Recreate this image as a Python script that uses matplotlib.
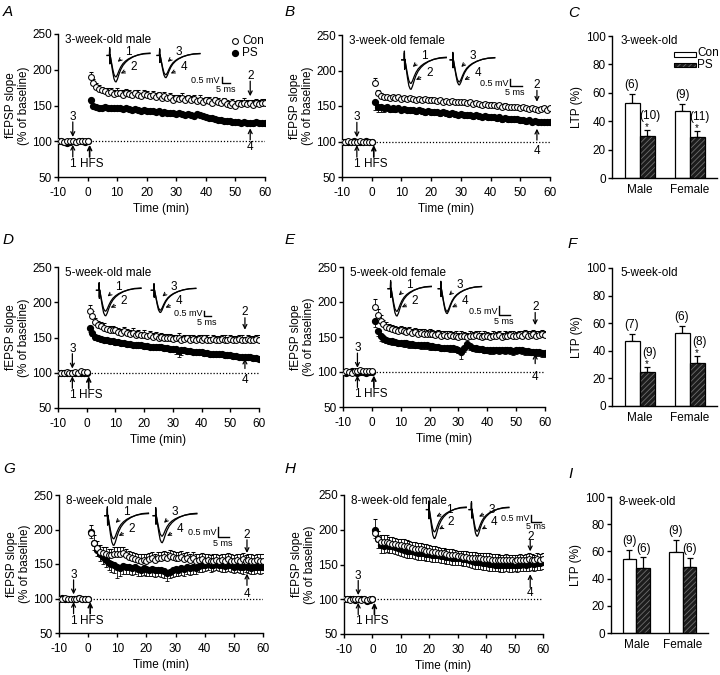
import matplotlib
matplotlib.use('Agg')
import matplotlib.pyplot as plt
from matplotlib.patches import Rectangle

plt.rcParams['font.family'] = ['Liberation Sans', 'DejaVu Sans']
plt.rcParams['font.size'] = 8.5
plt.rcParams['hatch.linewidth'] = 0.6
plt.rcParams['axes.unicode_minus'] = False

# ---------------- data ----------------
base_time = [-10, -9, -8, -7, -6, -5, -4, -3, -2, -1, 0]
post_time = [1, 2, 3, 4, 5, 6, 7, 8, 9, 10,
             11, 12, 13, 14, 15, 16, 17, 18, 19, 20,
             21, 22, 23, 24, 25, 26, 27, 28, 29, 30,
             31, 32, 33, 34, 35, 36, 37, 38, 39, 40,
             41, 42, 43, 44, 45, 46, 47, 48, 49, 50,
             51, 52, 53, 54, 55, 56, 57, 58, 59, 60]
x_ticks = [-10, 0, 10, 20, 30, 40, 50, 60]
y_ticks = [50, 100, 150, 200, 250]

# --- A: 3-week-old male ---
A_con_base = [101, 100, 99, 100, 101, 100, 99, 100, 101, 100, 100]
A_con_base_err = [2, 2, 2, 2, 2, 2, 2, 2, 2, 2, 2]
A_con = [190, 181, 176, 173, 171, 170, 168, 169, 166, 168,
         167, 165, 168, 166, 164, 167, 165, 163, 166, 164,
         163, 165, 162, 164, 161, 163, 160, 162, 158, 160,
         159, 161, 158, 160, 157, 159, 156, 158, 155, 157,
         156, 154, 157, 155, 153, 156, 152, 151, 154, 150,
         153, 152, 154, 152, 153, 151, 154, 152, 153, 154]
A_con_err = [7, 6, 5, 5, 5, 5, 6, 5, 5, 6,
             5, 6, 5, 6, 5, 5, 6, 5, 5, 6,
             5, 5, 6, 5, 5, 6, 5, 5, 6, 5,
             5, 6, 5, 5, 6, 5, 5, 6, 5, 5,
             6, 5, 5, 6, 5, 5, 6, 5, 5, 6,
             5, 5, 6, 5, 5, 6, 5, 5, 6, 5]
A_ps_base = [100, 101, 99, 98, 99, 100, 99, 101, 100, 99, 100]
A_ps_base_err = [2, 2, 2, 2, 2, 2, 2, 2, 2, 2, 2]
A_ps = [158, 150, 148, 147, 147, 148, 147, 146, 146, 147,
        146, 145, 146, 145, 144, 145, 144, 143, 144, 142,
        143, 142, 141, 142, 140, 141, 140, 139, 140, 138,
        139, 138, 137, 138, 137, 136, 138, 137, 135, 134,
        133, 132, 131, 130, 130, 129, 128, 128, 127, 127,
        127, 126, 127, 126, 126, 125, 127, 126, 125, 125]
A_ps_err = [5, 4, 3, 3, 3, 3, 3, 3, 3, 3,
            3, 3, 3, 3, 3, 3, 3, 3, 3, 3,
            3, 3, 3, 3, 3, 3, 3, 3, 3, 3,
            3, 3, 3, 3, 3, 3, 4, 3, 3, 3,
            3, 3, 3, 3, 3, 3, 3, 3, 3, 3,
            3, 3, 3, 3, 3, 3, 3, 3, 3, 3]

# --- B: 3-week-old female ---
B_con_base = [100, 100, 101, 100, 99, 100, 101, 100, 100, 99, 100]
B_con_base_err = [2, 2, 2, 2, 2, 2, 2, 2, 2, 2, 2]
B_con = [182, 168, 164, 162, 162, 161, 162, 161, 162, 160,
         161, 160, 161, 160, 159, 160, 159, 160, 158, 159,
         158, 157, 158, 156, 157, 156, 157, 155, 156, 155,
         156, 154, 155, 153, 154, 153, 152, 153, 151, 152,
         151, 150, 151, 149, 150, 149, 148, 149, 148, 147,
         148, 147, 146, 147, 146, 145, 146, 147, 145, 147]
B_con_err = [7, 5, 4, 4, 4, 3, 3, 4, 3, 3,
             3, 4, 3, 3, 3, 3, 4, 3, 3, 3,
             3, 3, 3, 4, 3, 3, 3, 3, 3, 3,
             3, 3, 4, 3, 3, 3, 3, 3, 3, 3,
             3, 3, 3, 3, 4, 3, 3, 3, 3, 3,
             3, 3, 3, 3, 3, 3, 3, 3, 3, 3]
B_ps_base = [100, 99, 100, 100, 101, 100, 99, 100, 101, 100, 100]
B_ps_base_err = [2, 2, 2, 2, 2, 2, 2, 2, 2, 2, 2]
B_ps = [155, 149, 148, 147, 148, 146, 147, 146, 147, 145,
        146, 145, 144, 145, 143, 144, 143, 142, 143, 142,
        141, 142, 140, 141, 140, 139, 140, 139, 138, 139,
        138, 137, 138, 136, 137, 136, 135, 136, 134, 135,
        134, 133, 134, 132, 133, 132, 131, 132, 131, 130,
        130, 129, 130, 128, 129, 128, 128, 127, 128, 127]
B_ps_err = [10, 8, 7, 6, 5, 5, 5, 4, 4, 4,
            4, 4, 4, 4, 4, 4, 4, 4, 4, 4,
            4, 4, 4, 4, 4, 4, 4, 4, 4, 4,
            4, 4, 4, 4, 4, 4, 4, 4, 4, 4,
            4, 4, 4, 4, 4, 4, 4, 4, 4, 4,
            4, 4, 4, 4, 4, 4, 4, 4, 4, 4]

# --- D: 5-week-old male ---
D_con_base = [100, 100, 99, 101, 100, 100, 101, 100, 102, 101, 101]
D_con_base_err = [2, 2, 2, 2, 2, 2, 2, 2, 2, 2, 2]
D_con = [188, 181, 172, 168, 166, 164, 162, 160, 161, 160,
         158, 157, 159, 156, 155, 157, 154, 155, 153, 154,
         152, 153, 151, 152, 150, 151, 150, 149, 150, 148,
         149, 150, 147, 148, 149, 147, 148, 146, 148, 147,
         149, 147, 146, 148, 147, 146, 148, 147, 146, 148,
         147, 146, 148, 147, 146, 148, 147, 146, 148, 147]
D_con_err = [8, 7, 6, 6, 6, 6, 5, 6, 6, 5,
             6, 5, 6, 6, 5, 6, 5, 6, 5, 6,
             5, 6, 5, 6, 5, 6, 5, 6, 5, 6,
             5, 6, 5, 6, 5, 6, 5, 6, 5, 6,
             5, 6, 5, 6, 5, 6, 5, 6, 5, 6,
             5, 6, 5, 6, 5, 6, 5, 6, 5, 6]
D_ps_base = [100, 99, 100, 100, 99, 100, 100, 99, 100, 100, 100]
D_ps_base_err = [2, 2, 2, 2, 2, 2, 2, 2, 2, 2, 2]
D_ps = [163, 156, 151, 149, 148, 147, 146, 145, 145, 144,
        143, 142, 142, 141, 141, 140, 140, 139, 139, 138,
        138, 137, 137, 136, 136, 136, 135, 135, 134, 134,
        133, 131, 132, 132, 131, 131, 130, 130, 129, 129,
        128, 128, 127, 127, 126, 126, 126, 125, 125, 125,
        124, 124, 123, 123, 122, 122, 122, 121, 121, 120]
D_ps_err = [5, 4, 4, 4, 4, 4, 4, 4, 4, 4,
            4, 4, 4, 4, 4, 4, 4, 4, 4, 4,
            4, 4, 4, 4, 4, 4, 4, 4, 4, 4,
            6, 8, 7, 4, 4, 4, 4, 4, 4, 4,
            4, 4, 4, 4, 4, 4, 4, 4, 4, 4,
            4, 4, 4, 4, 4, 4, 4, 4, 4, 3]

# --- E: 5-week-old female ---
E_con_base = [100, 101, 100, 99, 102, 101, 103, 102, 101, 102, 101]
E_con_base_err = [2, 2, 2, 2, 2, 2, 2, 2, 2, 2, 2]
E_con = [193, 181, 173, 168, 165, 163, 161, 160, 159, 160,
         158, 157, 158, 156, 157, 155, 156, 155, 154, 155,
         154, 153, 154, 152, 153, 152, 153, 151, 152, 150,
         152, 151, 150, 152, 151, 153, 152, 150, 152, 151,
         150, 152, 151, 153, 150, 152, 151, 153, 152, 151,
         153, 152, 154, 152, 153, 154, 152, 153, 154, 153]
E_con_err = [11, 9, 8, 7, 7, 6, 6, 6, 6, 6,
             6, 6, 6, 6, 6, 6, 6, 6, 6, 6,
             6, 6, 6, 6, 6, 6, 6, 6, 6, 6,
             6, 6, 6, 6, 6, 6, 6, 6, 6, 6,
             6, 6, 6, 6, 6, 6, 6, 6, 6, 6,
             6, 6, 6, 6, 6, 6, 6, 6, 6, 6]
E_ps_base = [100, 99, 100, 101, 100, 99, 100, 100, 99, 100, 100]
E_ps_base_err = [2, 2, 2, 2, 2, 2, 2, 2, 2, 2, 2]
E_ps = [173, 158, 151, 148, 146, 145, 144, 143, 142, 142,
        141, 141, 140, 140, 139, 139, 138, 138, 138, 137,
        137, 136, 136, 135, 135, 135, 134, 134, 133, 132,
        128, 134, 140, 137, 135, 134, 133, 133, 132, 132,
        131, 131, 132, 131, 132, 131, 132, 131, 130, 131,
        132, 131, 130, 130, 129, 129, 128, 128, 127, 127]
E_ps_err = [8, 7, 6, 5, 5, 5, 5, 5, 5, 5,
            5, 5, 5, 5, 5, 5, 5, 5, 5, 5,
            5, 5, 5, 5, 5, 5, 5, 5, 5, 5,
            9, 6, 5, 5, 5, 5, 5, 5, 5, 5,
            5, 5, 5, 5, 5, 5, 5, 5, 5, 5,
            5, 5, 5, 5, 5, 5, 5, 5, 5, 5]

# --- G: 8-week-old male ---
G_con_base = [100, 100, 101, 100, 100, 99, 100, 101, 100, 100, 100]
G_con_base_err = [2, 2, 2, 2, 2, 2, 2, 2, 2, 2, 2]
G_con = [195, 181, 173, 168, 166, 165, 163, 163, 164, 165,
         165, 166, 163, 160, 158, 157, 156, 155, 156, 155,
         157, 158, 156, 158, 159, 160, 158, 161, 160, 159,
         158, 160, 157, 158, 156, 158, 155, 156, 157, 155,
         156, 154, 155, 156, 154, 156, 155, 157, 155, 154,
         156, 155, 157, 154, 156, 155, 154, 156, 155, 155]
G_con_err = [12, 11, 10, 9, 9, 9, 9, 9, 10, 9,
             10, 9, 9, 9, 9, 9, 9, 9, 9, 9,
             9, 9, 9, 9, 9, 9, 9, 9, 9, 9,
             9, 9, 9, 9, 9, 9, 9, 9, 9, 9,
             9, 9, 9, 9, 9, 9, 9, 9, 9, 9,
             9, 9, 9, 9, 9, 9, 9, 9, 9, 9]
G_ps_base = [100, 101, 100, 100, 99, 100, 100, 101, 100, 99, 100]
G_ps_base_err = [2, 2, 2, 2, 2, 2, 2, 2, 2, 2, 2]
G_ps = [197, 181, 171, 165, 160, 156, 152, 150, 149, 145,
        144, 147, 146, 145, 144, 145, 143, 142, 144, 143,
        142, 143, 141, 142, 141, 140, 137, 139, 141, 143,
        142, 144, 143, 145, 144, 146, 144, 147, 148, 149,
        150, 148, 149, 150, 149, 148, 147, 149, 148, 146,
        147, 146, 145, 147, 146, 144, 145, 146, 145, 146]
G_ps_err = [10, 10, 10, 10, 10, 10, 10, 11, 12, 16,
            12, 11, 10, 10, 10, 10, 10, 10, 10, 10,
            10, 10, 10, 10, 10, 10, 12, 10, 10, 10,
            10, 10, 10, 10, 10, 10, 9, 9, 9, 9,
            9, 9, 9, 9, 9, 9, 9, 9, 9, 9,
            9, 9, 9, 9, 9, 9, 9, 9, 9, 9]

# --- H: 8-week-old female ---
H_con_base = [100, 100, 99, 100, 101, 100, 99, 100, 99, 100, 100]
H_con_base_err = [2, 2, 2, 2, 2, 2, 2, 2, 2, 2, 2]
H_con = [195, 186, 183, 182, 183, 181, 180, 179, 178, 178,
         177, 176, 175, 174, 173, 172, 172, 171, 170, 169,
         168, 168, 167, 166, 166, 165, 164, 164, 163, 162,
         162, 161, 161, 160, 160, 160, 159, 159, 158, 158,
         158, 157, 157, 157, 156, 156, 157, 156, 156, 155,
         156, 157, 156, 157, 158, 157, 156, 158, 157, 158]
H_con_err = [20, 12, 10, 10, 9, 9, 9, 9, 9, 9,
             9, 9, 9, 9, 9, 9, 9, 9, 9, 9,
             8, 8, 8, 8, 8, 8, 8, 8, 8, 8,
             8, 8, 8, 8, 8, 8, 8, 8, 8, 8,
             8, 8, 8, 8, 8, 8, 8, 8, 8, 8,
             8, 8, 8, 8, 8, 8, 8, 8, 8, 8]
H_ps_base = [100, 101, 100, 100, 99, 100, 101, 100, 98, 99, 100]
H_ps_base_err = [2, 2, 2, 2, 2, 2, 2, 2, 2, 2, 2]
H_ps = [200, 186, 178, 177, 178, 176, 177, 175, 174, 172,
        171, 170, 170, 169, 168, 167, 167, 166, 165, 165,
        164, 163, 163, 162, 162, 161, 161, 160, 160, 159,
        159, 158, 158, 157, 155, 154, 153, 153, 152, 152,
        151, 151, 150, 150, 149, 149, 150, 149, 149, 150,
        149, 150, 151, 150, 151, 152, 151, 152, 152, 153]
H_ps_err = [12, 12, 11, 11, 10, 10, 10, 10, 10, 10,
            10, 10, 10, 10, 10, 10, 10, 10, 10, 10,
            10, 10, 10, 10, 10, 10, 10, 10, 10, 10,
            10, 10, 10, 10, 10, 10, 10, 10, 10, 10,
            10, 10, 10, 10, 10, 10, 10, 10, 10, 10,
            10, 10, 10, 10, 10, 10, 10, 10, 10, 10]

# --- bar charts (LTP %) ---
groups = ['Male', 'Female']
bar_ticks = [0, 20, 40, 60, 80, 100]
C_con = [52.5, 47.3]
C_con_err = [6.5, 4.5]
C_ps = [29.4, 28.7]
C_ps_err = [4.6, 4.3]
C_n_con = ['(6)', '(9)']
C_n_ps = ['(10)', '(11)']
F_con = [47.3, 53.1]
F_con_err = [4.9, 5.1]
F_ps = [24.3, 30.9]
F_ps_err = [4.1, 5.3]
F_n_con = ['(7)', '(6)']
F_n_ps = ['(9)', '(8)']
I_con = [54.7, 59.6]
I_con_err = [6.6, 8.6]
I_ps = [47.8, 48.8]
I_ps_err = [7.8, 6.6]
I_n_con = ['(9)', '(9)']
I_n_ps = ['(6)', '(6)']

# schematic fEPSP trace shape (normalised)
TRACE_X = [0.00, 0.055, 0.06, 0.065, 0.07, 0.08, 0.10, 0.13, 0.16, 0.19, 0.21,
           0.24, 0.28, 0.32, 0.37, 0.43, 0.50, 0.60, 0.72, 0.85, 1.00]
TRACE_Y = [0.00, 0.00, 0.30, -0.32, 0.02, -0.08, -0.30, -0.62, -0.88, -0.99, -1.00,
           -0.90, -0.70, -0.53, -0.38, -0.26, -0.16, -0.06, 0.02, 0.07, 0.09]

PS_FACE = '#1c1c1c'
PS_HATCH = '#6e6e6e'
MS = 4.2

# ---------------- figure ----------------
W, H = 720, 675
fig = plt.figure(figsize=(7.2, 6.75), dpi=100)


def add_ax(l, r, t, b):
    return fig.add_axes([l / W, 1 - b / H, (r - l) / W, (b - t) / H])


def style_axes(ax):
    for s in ['top', 'right']:
        ax.spines[s].set_visible(False)
    for s in ['left', 'bottom']:
        ax.spines[s].set_linewidth(1.0)
    ax.tick_params(direction='out', length=3, width=1.0, labelsize=8.5)


def arrow(ax, x, y0, y1, lw=0.9):
    ax.annotate('', xy=(x, y1), xytext=(x, y0),
                arrowprops=dict(arrowstyle='->', lw=lw, color='black',
                                shrinkA=0, shrinkB=0, mutation_scale=7))


def draw_time(ax, con_b, con_be, con, con_e, ps_b, ps_be, ps, ps_e, cfg):
    t = base_time + post_time
    c = con_b + con
    ce = con_be + con_e
    p = ps_b + ps
    pe = ps_be + ps_e
    z = [0] * len(t)
    ax.errorbar(t, p, yerr=[pe, z], fmt='o', ms=MS, mfc='black', mec='black',
                ecolor='black', elinewidth=0.6, capsize=1.4, capthick=0.6, zorder=3)
    ax.errorbar(t, c, yerr=[z, ce], fmt='o', ms=MS, mfc='white', mec='black', mew=0.75,
                ecolor='black', elinewidth=0.6, capsize=1.4, capthick=0.6, zorder=4)
    ax.plot([0.5, 60], [100, 100], ls=(0, (1, 1.5)), color='black', lw=0.9, zorder=1)
    ax.set_xlim(-10, 60)
    ax.set_ylim(50, 250)
    ax.set_xticks(x_ticks)
    ax.set_yticks(y_ticks)
    style_axes(ax)
    ax.tick_params(axis='x', pad=4)
    ax.tick_params(axis='y', pad=1.5)
    ax.set_xlabel('Time (min)', fontsize=8.5, labelpad=3)
    ax.set_ylabel('fEPSP slope\n(% of baseline)', fontsize=8.5, labelpad=1.5, linespacing=1.1)
    ax.text(-7.5, 241, cfg['title'], ha='left', va='center', fontsize=8.5)
    # baseline / HFS markers
    ax.text(-5, 134, '3', ha='center', va='center', fontsize=8.5)
    arrow(ax, -5, 127, 106)
    arrow(ax, -5, 78, 95)
    arrow(ax, 0.7, 78, 95, lw=1.2)
    ax.text(-5, 68, '1', ha='center', va='center', fontsize=8.5)
    ax.text(-2.7, 68, 'HFS', ha='left', va='center', fontsize=8.5)
    mx = cfg['mark_x']
    ty, a0, a1 = cfg['lab2']
    ax.text(mx, ty, '2', ha='center', va='center', fontsize=8.5)
    arrow(ax, mx, a0, a1)
    ty, a0, a1 = cfg['lab4']
    ax.text(mx, ty, '4', ha='center', va='center', fontsize=8.5)
    arrow(ax, mx, a0, a1)
    # traces
    w = cfg['tr_w']
    base = cfg['tr_base']
    d = cfg['tr_depth']
    amps = cfg['tr_amp']
    up = cfg.get('lab_up', 0.13)
    lx = cfg.get('lab_x', 0.50)
    labels = [('1', '2'), ('3', '4')]
    for k, x0 in enumerate(cfg['tr_x']):
        xs = [x0 + w * u for u in TRACE_X]
        for a in (amps[2 * k], amps[2 * k + 1]):
            ax.plot(xs, [base + d * a * v for v in TRACE_Y], color='black', lw=0.9,
                    solid_joinstyle='round', zorder=5)
        s_lab, l_lab = labels[k]
        ax.annotate(s_lab, xy=(x0 + 0.25 * w, base - 0.24 * d),
                    xytext=(x0 + lx * w, base + up * d), ha='center', va='center',
                    fontsize=8.5, zorder=6,
                    arrowprops=dict(arrowstyle='->', lw=0.7, color='black', shrinkA=2,
                                    shrinkB=0, mutation_scale=6))
        ax.annotate(l_lab, xy=(x0 + 0.32 * w, base - 0.68 * d),
                    xytext=(x0 + 0.62 * w, base - 0.44 * d), ha='center', va='center',
                    fontsize=8.5, zorder=6,
                    arrowprops=dict(arrowstyle='->', lw=0.7, color='black', shrinkA=2,
                                    shrinkB=0, mutation_scale=6))
    # scale bar
    sx, sy, vl, hl = cfg['sb']
    ax.plot([sx, sx, sx + hl], [sy + vl, sy, sy], color='black', lw=1.0, zorder=5)
    ax.text(sx - 0.6, sy + vl * 0.45, '0.5 mV', ha='right', va='center', fontsize=6.5)
    ax.text(sx + hl * 0.45, sy - cfg.get('ms_dy', 9), '5 ms', ha='center', va='center',
            fontsize=6.5)


def draw_bar(ax, con, con_e, ps, ps_e, n_con, n_ps, cfg):
    xs = list(range(len(groups)))
    xc = [x - 0.15 for x in xs]
    xp = [x + 0.15 for x in xs]
    ax.bar(xc, con, width=0.3, color='white', edgecolor='black', lw=0.9, zorder=2)
    ax.bar(xp, ps, width=0.3, color=PS_FACE, edgecolor=PS_HATCH, hatch='//////',
           lw=0, zorder=2)
    ax.bar(xp, ps, width=0.3, color='none', edgecolor='black', lw=0.9, zorder=3)
    z = [0] * len(xs)
    ax.errorbar(xc, con, yerr=[z, con_e], fmt='none', ecolor='black', elinewidth=0.9,
                capsize=2.5, capthick=0.9, zorder=1)
    ax.errorbar(xp, ps, yerr=[z, ps_e], fmt='none', ecolor='black', elinewidth=0.9,
                capsize=2.5, capthick=0.9, zorder=1)
    for i in xs:
        ax.text(xc[i], con[i] + con_e[i] + 6.5, n_con[i], ha='center', va='center', fontsize=8.5)
        if cfg['stars']:
            ax.text(xp[i], ps[i] + ps_e[i] + 2.2, '*', ha='center', va='center', fontsize=7)
            ax.text(xp[i] + 0.05, ps[i] + ps_e[i] + 10, n_ps[i], ha='center', va='center',
                    fontsize=8.5)
        else:
            ax.text(xp[i], ps[i] + ps_e[i] + 6.5, n_ps[i], ha='center', va='center',
                    fontsize=8.5)
    ax.set_xlim(-0.55, 1.55)
    ax.set_ylim(0, 100)
    ax.set_yticks(bar_ticks)
    ax.set_xticks(xs)
    ax.set_xticklabels(groups)
    style_axes(ax)
    ax.tick_params(axis='x', length=0, pad=4)
    ax.tick_params(axis='y', pad=1.5)
    ax.set_ylabel('LTP (%)', fontsize=8.5, labelpad=2)
    ax.text(0.08, 0.965, cfg['title'], transform=ax.transAxes, ha='left', va='center',
            fontsize=8.5)
    if cfg.get('legend'):
        ax.add_patch(Rectangle((0.69, 85.3), 0.44, 3.2, facecolor='white',
                               edgecolor='black', lw=0.8, clip_on=False))
        ax.add_patch(Rectangle((0.69, 77.9), 0.44, 3.2, facecolor=PS_FACE,
                               edgecolor=PS_HATCH, hatch='//////', lw=0, clip_on=False))
        ax.add_patch(Rectangle((0.69, 77.9), 0.44, 3.2, facecolor='none',
                               edgecolor='black', lw=0.8, clip_on=False))
        ax.text(1.15, 87.8, 'Con', ha='left', va='center', fontsize=8.5, clip_on=False)
        ax.text(1.15, 79.3, 'PS', ha='left', va='center', fontsize=8.5, clip_on=False)


cfgA = dict(title='3-week-old male', tr_x=(6.6, 23.5), tr_w=14.5, tr_base=220,
            tr_depth=37, tr_amp=(0.81, 1.0, 0.73, 0.84), sb=(45.3, 181, 9, 2.8),
            mark_x=55, lab2=(191, 184, 163), lab4=(92, 102, 118))
cfgB = dict(title='3-week-old female', tr_x=(10.1, 26.4), tr_w=15, tr_base=215,
            tr_depth=41.5, tr_amp=(0.8, 1.0, 0.75, 0.85), sb=(46.5, 178, 9.6, 4.0),
            mark_x=55.6, lab2=(180, 172, 156), lab4=(87, 102, 118))
cfgD = dict(title='5-week-old male', tr_x=(3.4, 22.5), tr_w=15.5, tr_base=217,
            tr_depth=36.2, tr_amp=(0.82, 1.0, 0.78, 0.87), sb=(40.8, 180.8, 6.6, 2.6),
            mark_x=55.1, lab2=(186.5, 178, 161), lab4=(90, 106, 120))
cfgE = dict(title='5-week-old female', tr_x=(5.6, 23.0), tr_w=15, tr_base=219,
            tr_depth=39, tr_amp=(0.83, 1.0, 0.83, 0.91), sb=(44.1, 181, 13, 3.8),
            mark_x=56.6, lab2=(193, 185, 167), lab4=(93, 112, 126))
cfgG = dict(title='8-week-old male', tr_x=(5.7, 22.3), tr_w=15, tr_base=220,
            tr_depth=43, tr_amp=(0.78, 1.0, 0.69, 0.91), sb=(44.6, 188.6, 14.4, 3.7),
            mark_x=54.5, lab2=(192, 185, 166), lab4=(107, 119, 136))
cfgH = dict(title='8-week-old female', tr_x=(19.0, 34.0), tr_w=14, tr_base=229,
            tr_depth=41.6, tr_amp=(0.77, 1.0, 0.75, 0.92), sb=(55.9, 211.7, 9.6, 3.5),
            mark_x=55.5, lab2=(190, 185, 169), lab4=(109, 117, 136), lab_up=-0.02,
            lab_x=0.58, ms_dy=6.5)

axA = add_ax(58, 265, 34, 177)
draw_time(axA, A_con_base, A_con_base_err, A_con, A_con_err,
          A_ps_base, A_ps_base_err, A_ps, A_ps_err, cfgA)
axA.plot([49.9], [240], 'o', ms=MS, mfc='white', mec='black', mew=0.75)
axA.plot([49.9], [224], 'o', ms=MS, mfc='black', mec='black')
axA.text(52.3, 240, 'Con', ha='left', va='center', fontsize=8.5)
axA.text(52.3, 224, 'PS', ha='left', va='center', fontsize=8.5)

axB = add_ax(342, 550, 35, 177)
draw_time(axB, B_con_base, B_con_base_err, B_con, B_con_err,
          B_ps_base, B_ps_base_err, B_ps, B_ps_err, cfgB)
axD = add_ax(58, 259, 267, 408)
draw_time(axD, D_con_base, D_con_base_err, D_con, D_con_err,
          D_ps_base, D_ps_base_err, D_ps, D_ps_err, cfgD)
axE = add_ax(343, 545, 267, 407)
draw_time(axE, E_con_base, E_con_base_err, E_con, E_con_err,
          E_ps_base, E_ps_base_err, E_ps, E_ps_err, cfgE)
axG = add_ax(59, 263, 495, 633)
draw_time(axG, G_con_base, G_con_base_err, G_con, G_con_err,
          G_ps_base, G_ps_base_err, G_ps, G_ps_err, cfgG)
axH = add_ax(344, 543, 495, 634)
draw_time(axH, H_con_base, H_con_base_err, H_con, H_con_err,
          H_ps_base, H_ps_base_err, H_ps, H_ps_err, cfgH)

axC = add_ax(612, 717, 36, 178)
draw_bar(axC, C_con, C_con_err, C_ps, C_ps_err, C_n_con, C_n_ps,
         dict(title='3-week-old', stars=True, legend=True))
axF = add_ax(612, 717, 268, 406)
draw_bar(axF, F_con, F_con_err, F_ps, F_ps_err, F_n_con, F_n_ps,
         dict(title='5-week-old', stars=True))
axI = add_ax(611, 708, 497, 633)
draw_bar(axI, I_con, I_con_err, I_ps, I_ps_err, I_n_con, I_n_ps,
         dict(title='8-week-old', stars=False))

letters = [('A', 3, 5), ('B', 285, 5), ('C', 568, 6), ('D', 3, 233), ('E', 285, 233),
           ('F', 568, 237), ('G', 3, 462), ('H', 285, 462), ('I', 568, 467)]
for s, x, y in letters:
    fig.text(x / W, 1 - y / H, s, ha='left', va='top', fontsize=11, style='italic')

fig.savefig('out.png', dpi=100)
